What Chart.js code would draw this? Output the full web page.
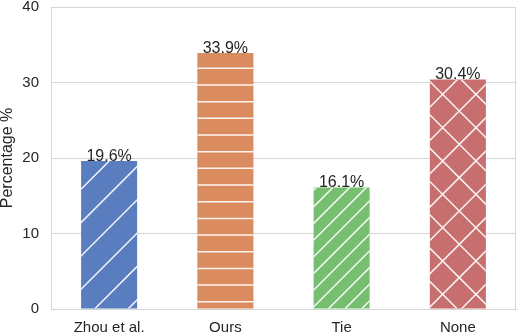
<!DOCTYPE html>
<html>
<head>
<meta charset="utf-8">
<script src="https://cdn.jsdelivr.net/npm/chart.js@4"></script>
<style>
  html, body { margin: 0; padding: 0; background: #fff; }
  #wrap { width: 518px; height: 334px; }
</style>
</head>
<body>
<div id="wrap"><canvas id="prefChart"></canvas></div>
<script>
// Данные
const categories = ['Zhou et al.', 'Ours', 'Tie', 'None'];
const percentages = [19.6, 33.9, 16.1, 30.4];
const yTicks = [0, 10, 20, 30, 40];

// Оформление столбцов
const barColors = ['#597dbf', '#da8b5f', '#76bf71', '#c76e6e'];
const barHatches = ['/', '-', '//', 'x'];

const textColor = '#262626';
const gridColor = '#d6d6d6';
const fontFamily = '"Liberation Sans", Arial, Helvetica, sans-serif';

// Штриховка поверх столбцов
function drawHatch(ctx, kind, left, top, right, bottom) {
    ctx.save();
    ctx.beginPath();
    ctx.rect(left, top, right - left, bottom - top);
    ctx.clip();
    ctx.strokeStyle = 'rgba(255,255,255,0.92)';
    ctx.lineWidth = 1.5;
    ctx.beginPath();
    if (kind === '-') {
        const step = 16.67, phase = 1.67;
        for (let y = Math.ceil((top - phase) / step) * step + phase; y <= bottom; y += step) {
            ctx.moveTo(left, y);
            ctx.lineTo(right, y);
        }
    } else {
        const step = kind === '//' ? 16.67 : 33.33;
        const phase = 3.66;
        // линии "/" : x + y = c
        for (let c = Math.floor((left + top - phase) / step) * step + phase; c <= right + bottom + step; c += step) {
            ctx.moveTo(c - bottom, bottom);
            ctx.lineTo(c - top, top);
        }
        if (kind === 'x') {
            // линии "\" : x - y = c
            const phase2 = 15;
            for (let c = Math.floor((left - bottom - phase2) / step) * step + phase2; c <= right - top + step; c += step) {
                ctx.moveTo(c + top, top);
                ctx.lineTo(c + bottom, bottom);
            }
        }
    }
    ctx.stroke();
    ctx.restore();
}

const hatchPlugin = {
    id: 'hatch',
    afterDatasetsDraw(chart) {
        const ctx = chart.ctx;
        const meta = chart.getDatasetMeta(0);
        meta.data.forEach((bar, i) => {
            const half = bar.width / 2;
            drawHatch(ctx, barHatches[i], bar.x - half, bar.y, bar.x + half, bar.base);
        });
        // подписи значений
        ctx.save();
        ctx.fillStyle = textColor;
        ctx.font = '16px ' + fontFamily;
        ctx.textAlign = 'center';
        ctx.textBaseline = 'alphabetic';
        meta.data.forEach((bar, i) => {
            ctx.fillText(percentages[i].toFixed(1) + '%', bar.x, bar.y - 0.5);
        });
        ctx.restore();
    },
    afterDraw(chart) {
        // рамка области графика (правая сторона)
        const a = chart.chartArea;
        const ctx = chart.ctx;
        ctx.save();
        ctx.strokeStyle = gridColor;
        ctx.lineWidth = 1;
        ctx.beginPath();
        ctx.moveTo(Math.round(a.right) - 0.5, a.top);
        ctx.lineTo(Math.round(a.right) - 0.5, a.bottom);
        ctx.stroke();
        ctx.restore();
    }
};

const ctx = document.getElementById('prefChart').getContext('2d');
new Chart(ctx, {
    type: 'bar',
    data: {
        labels: categories,
        datasets: [{
            data: percentages,
            backgroundColor: barColors,
            borderWidth: 0,
            barPercentage: 0.482,
            categoryPercentage: 1.0
        }]
    },
    options: {
        responsive: true,
        maintainAspectRatio: false,
        animation: false,
        devicePixelRatio: 1,
        layout: { padding: { top: 7, right: 2, left: 0, bottom: 0 } },
        plugins: {
            legend: { display: false },
            tooltip: { enabled: false }
        },
        scales: {
            x: {
                grid: { display: false, drawTicks: false },
                border: { display: true, color: gridColor, width: 1 },
                ticks: {
                    color: textColor,
                    font: { size: 15, family: fontFamily },
                    padding: 10,
                    maxRotation: 0
                },
                afterFit(scale) {
                    scale.height = 25;
                    scale.paddingLeft = 0;
                    scale.paddingRight = 0;
                }
            },
            y: {
                min: 0,
                max: 40,
                grid: { color: gridColor, lineWidth: 1, drawTicks: false },
                border: { display: true, color: gridColor, width: 1 },
                ticks: {
                    color: textColor,
                    font: { size: 15, family: fontFamily },
                    padding: 12,
                    stepSize: 10,
                    callback: (v) => yTicks.includes(v) ? String(v) : ''
                },
                title: {
                    display: true,
                    text: 'Percentage %',
                    color: textColor,
                    font: { size: 16, family: fontFamily, lineHeight: 1 },
                    padding: 0
                },
                afterFit(scale) {
                    scale.width = 51;
                    scale.paddingTop = 0;
                    scale.paddingBottom = 0;
                }
            }
        }
    },
    plugins: [hatchPlugin]
});
</script>
</body>
</html>
